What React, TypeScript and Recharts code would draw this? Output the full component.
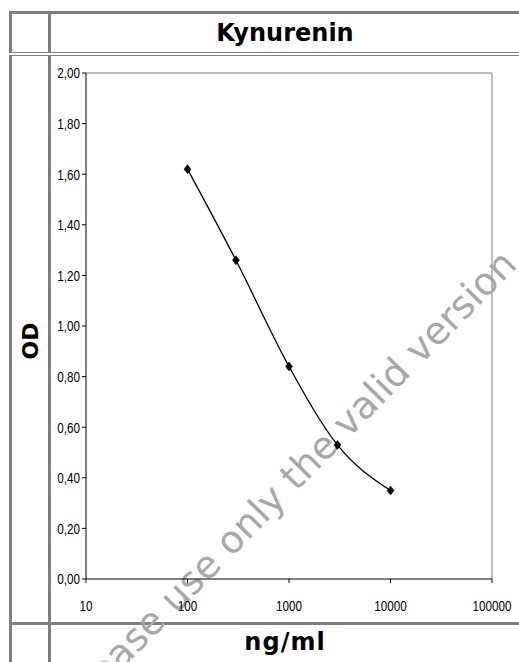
import React from 'react';
import { LineChart, Line, XAxis, YAxis, ReferenceLine } from 'recharts';

// Kynurenin standard curve
const concentrations = [100, 300, 1000, 3000, 10000];
const odValues = [1.62, 1.26, 0.84, 0.53, 0.35];
const xTicks = [10, 100, 1000, 10000, 100000];
const yTicks = [0, 0.2, 0.4, 0.6, 0.8, 1.0, 1.2, 1.4, 1.6, 1.8, 2.0];

const data = concentrations.map((c, i) => ({ conc: c, od: odValues[i] }));

const GRID = '#808080';
const FRAME = '#a6a6a6';
const TICK_FONT = '"Liberation Sans Narrow", "Liberation Sans", Arial, sans-serif';
const HEAD_FONT = '"DejaVu Sans", Verdana, sans-serif';

const fmtOd = (v: number) => v.toFixed(2).replace('.', ',');

// narrow (condensed) tick labels like Arial Narrow
const NarrowTick = (props: any) => {
  const { x, y, payload, textAnchor, formatter, dy } = props;
  return (
    <text
      transform={`translate(${x},${y}) scale(0.78,1)`}
      textAnchor={textAnchor}
      dy={dy}
      fill="#000"
      fontFamily={TICK_FONT}
      fontSize={15}
    >
      {formatter ? formatter(payload.value) : payload.value}
    </text>
  );
};

const Diamond = (props: any) => {
  const { cx, cy } = props;
  if (cx == null || cy == null) return null;
  return (
    <polygon
      points={`${cx},${cy - 4.5} ${cx + 3.5},${cy} ${cx},${cy + 4.5} ${cx - 3.5},${cy}`}
      fill="#000"
      stroke="#000"
      strokeWidth={0.5}
    />
  );
};

const hLine = (top: number, height: number): React.CSSProperties => ({
  position: 'absolute',
  left: 9,
  right: 0,
  top,
  height,
  background: GRID,
});

const vLine = (left: number): React.CSSProperties => ({
  position: 'absolute',
  left,
  width: 3,
  top: 11,
  bottom: 0,
  background: GRID,
});

export default function App() {
  return (
    <div
      style={{
        position: 'absolute',
        left: 0,
        top: 0,
        width: 519,
        height: 662,
        overflow: 'hidden',
        background: '#fff',
      }}
    >
      {/* table borders */}
      <div style={vLine(9)} />
      <div style={vLine(48)} />
      <div style={hLine(11, 3)} />
      <div style={{ ...hLine(52, 4), background: '#fff', borderTop: `1.5px solid ${GRID}`, borderBottom: `1.5px solid ${GRID}`, boxSizing: 'border-box' }} />
      <div style={hLine(622, 3)} />

      {/* header */}
      <div
        style={{
          position: 'absolute',
          left: 51,
          width: 468,
          top: 14,
          height: 38,
          lineHeight: '38px',
          textAlign: 'center',
          fontFamily: HEAD_FONT,
          fontWeight: 'bold',
          fontSize: 24,
          color: '#000',
        }}
      >
        Kynurenin
      </div>

      {/* y label */}
      <div
        style={{
          position: 'absolute',
          left: 30,
          top: 341,
          transform: 'translate(-50%, -50%) rotate(-90deg)',
          fontFamily: HEAD_FONT,
          fontWeight: 'bold',
          fontSize: 22,
          color: '#000',
          whiteSpace: 'nowrap',
        }}
      >
        OD
      </div>

      {/* x label */}
      <div
        style={{
          position: 'absolute',
          left: 51,
          width: 468,
          top: 625,
          height: 34,
          lineHeight: '34px',
          textAlign: 'center',
          fontFamily: HEAD_FONT,
          fontWeight: 'bold',
          fontSize: 24,
          letterSpacing: 1,
          color: '#000',
        }}
      >
        ng/ml
      </div>

      {/* watermark */}
      <svg width={519} height={662} style={{ position: 'absolute', left: 0, top: 0 }}>
        <text
          x={81}
          y={711}
          transform="rotate(-45.5 81 711)"
          fontFamily={HEAD_FONT}
          fontSize={38}
          fill="#a8a8a8"
        >
          Please use only the valid version
        </text>
      </svg>

      <div style={{ position: 'absolute', left: 51, top: 56 }}>
        <LineChart
          width={468}
          height={566}
          data={data}
          margin={{ top: 17, right: 27, left: 0, bottom: 0 }}
        >
          <XAxis
            dataKey="conc"
            type="number"
            scale="log"
            domain={[10, 100000]}
            ticks={xTicks}
            allowDataOverflow
            height={43}
            tickSize={4}
            tickMargin={17}
            axisLine={{ stroke: '#000', strokeWidth: 1 }}
            tickLine={{ stroke: '#000' }}
            tick={<NarrowTick dy="0.71em" />}
            interval={0}
          />
          <YAxis
            type="number"
            domain={[0, 2]}
            ticks={yTicks}
            width={35}
            tickSize={4}
            tickMargin={2}
            axisLine={{ stroke: '#000', strokeWidth: 1 }}
            tickLine={{ stroke: '#000' }}
            tick={<NarrowTick dy="0.355em" formatter={fmtOd} />}
            interval={0}
          />
          <ReferenceLine y={2} stroke={FRAME} strokeWidth={1.5} />
          <ReferenceLine x={100000} stroke={FRAME} strokeWidth={1.5} />
          <Line
            type="monotone"
            dataKey="od"
            stroke="#000"
            strokeWidth={1.3}
            dot={<Diamond />}
            activeDot={false}
            isAnimationActive={false}
          />
        </LineChart>
      </div>
    </div>
  );
}
